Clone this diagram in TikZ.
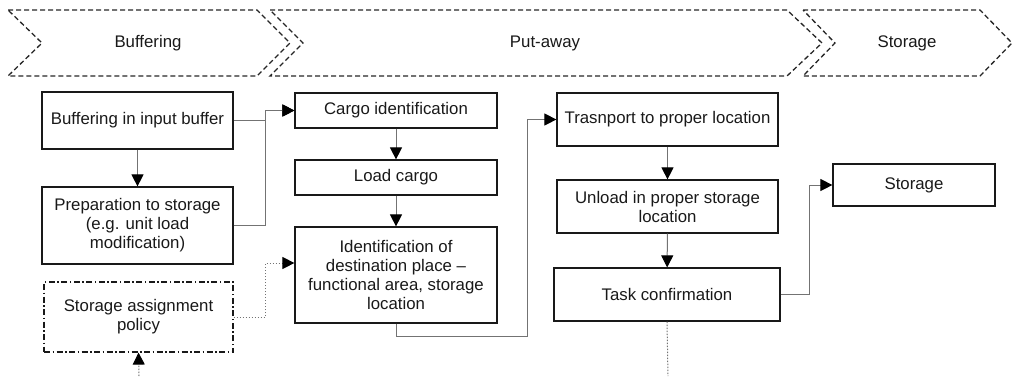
\documentclass[tikz,border=0pt]{standalone}
\usepackage{fontspec}
\setmainfont{Liberation Sans}
\usetikzlibrary{arrows.meta}
\tikzset{
    phase/.style={draw=black!85, line width=1.3pt,
        dash pattern=on 5pt off 3pt}, % dashed chevron of a phase
    stepbox/.style={draw=black!90, line width=1.2pt, align=center,
        inner sep=2pt, text=black!90},
    policybox/.style={stepbox, dash pattern=on 6pt off 2.5pt on 1.5pt off 2.5pt},
    link/.style={draw=black!55, line width=1pt,
        -{Triangle[length=12pt,width=12pt,black]}},
    hint/.style={link, dash pattern=on 1.5pt off 1.5pt},
}

\begin{document}
\begin{tikzpicture}[x=1pt, y=-1pt, font=\fontsize{16.8}{19}\selectfont]
        \useasboundingbox (0,0) rectangle (1018,376);
        % phases
        \draw[phase] (8,10) -- (257,10) -- (290,43) -- (257,76) -- (8,76) -- (42,43) -- cycle;
        \draw[phase] (270,10) -- (787,10) -- (822,43) -- (787,76) -- (270,76) -- (303,43) -- cycle;
        \draw[phase] (803,10) -- (980,10) -- (1012,43) -- (980,76) -- (803,76) -- (835,43) -- cycle;
        \node[text=black!90] (lbuffering) at (148,43) {Buffering};
        \node[text=black!90] (lputaway) at (545,43) {Put-away};
        \node[text=black!90] (lstorage) at (907,43) {Storage};
        % steps
        \node[stepbox, minimum width=191pt, minimum height=57pt] (buffer) at (137.5,120.5)
            {Buffering in input buffer};
        \node[stepbox, minimum width=191pt, minimum height=77pt] (prep) at (137.5,225.5)
            {Preparation to storage\\(e.g. unit load\\modification)};
        \node[policybox, minimum width=189pt, minimum height=70pt] (policy) at (138.5,317)
            {Storage assignment\\policy};
        \node[stepbox, minimum width=202pt, minimum height=35pt] (cargo) at (396,110.5)
            {Cargo identification};
        \node[stepbox, minimum width=202pt, minimum height=35pt] (load) at (396,177.5)
            {Load cargo};
        \node[stepbox, minimum width=202pt, minimum height=96pt] (dest) at (396,275)
            {Identification of\\destination place --\\functional area, storage\\location};
        \node[stepbox, minimum width=221pt, minimum height=53pt] (transport) at (667.5,119.5)
            {Trasnport to proper location};
        \node[stepbox, minimum width=221pt, minimum height=53pt] (unload) at (667.5,206.5)
            {Unload in proper storage\\location};
        \node[stepbox, minimum width=226pt, minimum height=53pt] (confirm) at (667,294.5)
            {Task confirmation};
        \node[stepbox, minimum width=162pt, minimum height=42pt] (storage) at (914,185)
            {Storage};
        \coordinate (policyin) at (139,376);
        \coordinate (confirmout) at (668,376);
        % flow
        \draw[link] (buffer) -- (prep);
        \draw[link] (buffer.east) -- ++(32,0) |- (cargo.west);
        \draw[link] (prep.east) -- ++(32,0) |- (cargo.west);
        \draw[hint] (policy.east) -- ++(32,0) |- ([yshift=12pt]dest.west);
        \draw[hint] (policyin) -- (policy.south);
        \draw[link] (cargo) -- (load);
        \draw[link] (load) -- (dest);
        \draw[link] (dest.south) -- ++(0,13) -- ++(131,0) |- (transport.west);
        \draw[link] (transport) -- (unload);
        \draw[link] (unload) -- (confirm);
        \draw[link] (confirm.east) -- ++(29,0) |- (storage.west);
        \draw[hint, -] (confirm.south) -- (confirmout);
    \end{tikzpicture}
\end{document}
